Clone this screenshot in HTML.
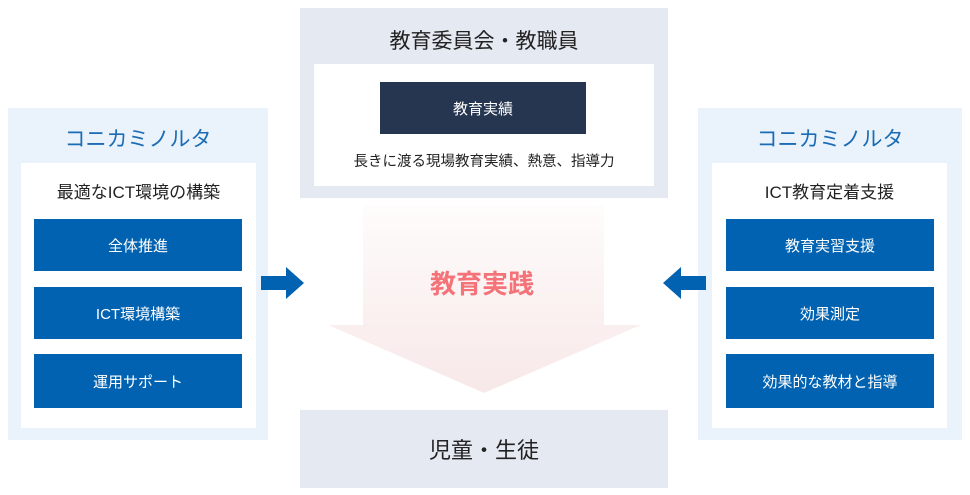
<!DOCTYPE html>
<html><head><meta charset="utf-8"><style>
body{margin:0;width:970px;height:495px;background:#fff;position:relative;overflow:hidden;font-family:"Liberation Sans","Noto Sans CJK JP",sans-serif;}
div{position:absolute;box-sizing:border-box;}
.c{display:flex;align-items:center;justify-content:center;}
.pl{background:#eaf2fb;}
.gr{background:#e5e9f2;}
.w{background:#fff;}
.b{background:#0062b0;color:#fff;font-size:15px;}
.t{color:#222;font-size:16px;}
.h{color:#1a6cb5;font-size:21px;}
</style></head><body>
<div class="pl" style="left:8px;top:108px;width:260px;height:332px"></div>
<div class="h c" style="left:8px;top:118px;width:260px;height:40px">コニカミノルタ</div>
<div class="w" style="left:21px;top:163px;width:235px;height:265px"></div>
<div class="t c" style="left:21px;top:175px;width:235px;height:30px;font-size:17px">最適なICT環境の構築</div>
<div class="b c" style="left:34px;top:219px;width:208px;height:52px">全体推進</div>
<div class="b c" style="left:34px;top:287px;width:208px;height:52px">ICT環境構築</div>
<div class="b c" style="left:34px;top:354px;width:208px;height:54px">運用サポート</div>

<div class="pl" style="left:698px;top:108px;width:264px;height:332px"></div>
<div class="h c" style="left:698px;top:118px;width:264px;height:40px">コニカミノルタ</div>
<div class="w" style="left:712px;top:163px;width:235px;height:265px"></div>
<div class="t c" style="left:712px;top:175px;width:235px;height:30px;font-size:17px">ICT教育定着支援</div>
<div class="b c" style="left:726px;top:219px;width:208px;height:52px">教育実習支援</div>
<div class="b c" style="left:726px;top:287px;width:208px;height:52px">効果測定</div>
<div class="b c" style="left:726px;top:354px;width:208px;height:54px">効果的な教材と指導</div>

<div class="gr" style="left:300px;top:8px;width:368px;height:190px"></div>
<div class="t c" style="left:300px;top:22px;width:368px;height:36px;font-size:21px">教育委員会・教職員</div>
<div class="w" style="left:314px;top:64px;width:340px;height:122px"></div>
<div class="c" style="left:380px;top:82px;width:206px;height:52px;background:#263650;color:#fff;font-size:15px">教育実績</div>
<div class="c" style="left:314px;top:148px;width:340px;height:24px;font-size:14.5px;color:#222">長きに渡る現場教育実績、熱意、指導力</div>

<svg style="position:absolute;left:0;top:0" width="970" height="495">
<defs><linearGradient id="g" x1="0" y1="0" x2="0" y2="1"><stop offset="0" stop-color="#fefcfc"/><stop offset="1" stop-color="#f8e8e8"/></linearGradient></defs>
<path d="M363 205H604V325H641L484 393L328 325H363Z" fill="url(#g)"/>
<path d="M261 276H286V267L304 283L286 299V290H261Z" fill="#0062b0"/>
<path d="M706 276H681V267L663 283L681 299V290H706Z" fill="#0062b0"/>
<text x="482" y="293" text-anchor="middle" font-size="26" font-weight="bold" fill="#f47378" font-family="Liberation Sans,Noto Sans CJK JP,sans-serif">教育実践</text>
</svg>

<div class="gr c" style="left:300px;top:410px;width:368px;height:78px;font-size:22px;color:#222">児童・生徒</div>
</body></html>
